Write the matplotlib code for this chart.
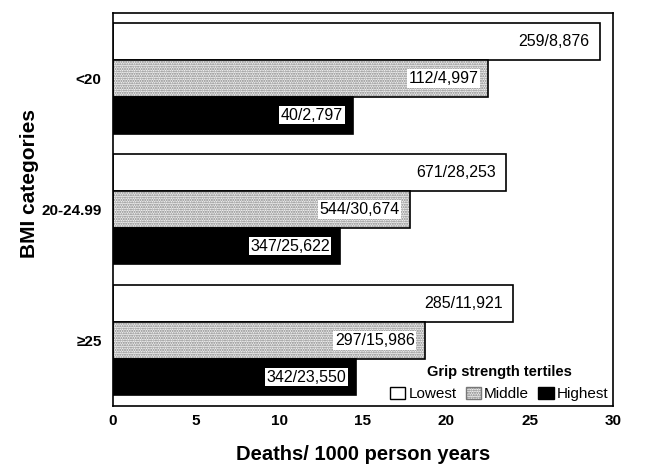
import matplotlib
matplotlib.use("Agg")
import matplotlib.pyplot as plt
from matplotlib.patches import Patch
import numpy as np

plt.rcParams['font.family'] = ['Liberation Sans', 'DejaVu Sans']

categories = ["<20", "20-24.99", "≥25"]
tertiles = ["Lowest", "Middle", "Highest"]
lowest = [29.2, 23.6, 24.0]
middle = [22.5, 17.8, 18.7]
highest = [14.4, 13.6, 14.6]
lowest_lbl = ["259/8,876", "671/28,253", "285/11,921"]
middle_lbl = ["112/4,997", "544/30,674", "297/15,986"]
highest_lbl = ["40/2,797", "347/25,622", "342/23,550"]

fig = plt.figure(figsize=(6.52, 4.65), dpi=100)
ax = fig.add_axes([0.173, 0.127, 0.767, 0.845])

y = np.arange(len(categories))
h = 0.28
series = [(lowest, lowest_lbl, -h), (middle, middle_lbl, 0), (highest, highest_lbl, h)]

# Lowest
ax.barh(y - h, lowest, height=h, color='white', edgecolor='black', linewidth=1.2)
# Middle (stippled)
ax.barh(y, middle, height=h, color='#f2f2f2', edgecolor='#808080', hatch='.......', linewidth=0)
ax.barh(y, middle, height=h, fill=False, edgecolor='black', linewidth=1.2)
# Highest
ax.barh(y + h, highest, height=h, color='black', edgecolor='black', linewidth=1.2)

for vals, lbls, off in series:
    for yi, v, t in zip(y, vals, lbls):
        ax.annotate(t, xy=(v, yi + off), xytext=(-7, 0), textcoords='offset points',
                    ha='right', va='center', fontsize=11.5,
                    bbox=dict(boxstyle='square,pad=0.1', facecolor='white', edgecolor='none'))

ax.set_xlim(0, 30)
ax.set_ylim(2.5, -0.5)
ax.set_xticks([0, 5, 10, 15, 20, 25, 30])
ax.set_yticks(y)
ax.set_yticklabels(categories)
ax.tick_params(axis='both', length=0, labelsize=11)
ax.tick_params(axis='x', pad=6)
ax.tick_params(axis='y', pad=8)
for lab in ax.get_xticklabels() + ax.get_yticklabels():
    lab.set_fontweight('bold')
for s in ax.spines.values():
    s.set_linewidth(1.2)

ax.set_xlabel("Deaths/ 1000 person years", fontsize=14.5, fontweight='bold', labelpad=12)
ax.set_ylabel("BMI categories", fontsize=15, fontweight='bold', va='center')
ax.yaxis.set_label_coords(-0.166, 0.565)

handles = [Patch(facecolor='white', edgecolor='black', label='Lowest'),
           Patch(facecolor='#f2f2f2', edgecolor='#777777', hatch='.......', label='Middle'),
           Patch(facecolor='black', edgecolor='black', label='Highest')]
leg = ax.legend(handles=handles, ncol=3, loc='lower right', frameon=False,
                title='Grip strength tertiles', fontsize=11,
                title_fontproperties={'weight': 'bold', 'size': 10.5},
                handlelength=1.0, handleheight=0.9, handletextpad=0.2, columnspacing=0.6,
                borderaxespad=0.1, borderpad=0.2)

fig.savefig("out.png", dpi=100)
